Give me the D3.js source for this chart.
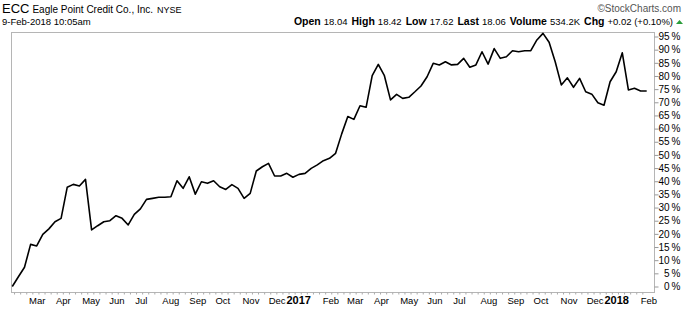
<!DOCTYPE html>
<html>
<head>
<meta charset="utf-8">
<script src="https://cdn.jsdelivr.net/npm/d3@7"></script>
<style>
  body { margin: 0; background: #fff; }
  svg text { font-family: "Liberation Sans", Arial, sans-serif; }
</style>
</head>
<body>
<div id="chart"></div>
<script>
// weekly closes, % change since first week
var startDate = "2016-02-12";
var pctChange = [
  0, 3.7, 7.3, 16.0, 15.4, 19.8, 21.9, 24.6, 25.9, 37.7,
  38.8, 38.2, 40.7, 21.5, 23.1, 24.6, 25.0, 26.9, 25.9, 23.4,
  27.4, 29.5, 33.1, 33.5, 33.9, 33.9, 34.1, 40.2, 37.3, 41.7,
  35.1, 39.8, 39.2, 40.2, 37.9, 36.9, 38.7, 37.3, 33.5, 35.4,
  43.9, 45.5, 46.8, 42.0, 42.0, 43.0, 41.5, 42.6, 43.0, 44.9,
  46.2, 47.8, 48.7, 50.6, 58.0, 64.6, 63.5, 68.7, 68.1, 80.1,
  84.4, 80.1, 70.9, 73.0, 71.5, 71.9, 74.0, 76.2, 79.7, 84.8,
  84.2, 85.4, 84.2, 84.4, 86.7, 83.3, 84.2, 89.2, 84.5, 90.4,
  86.7, 87.3, 89.6, 89.2, 89.6, 89.6, 93.7, 96.2, 92.8, 85.4,
  76.6, 79.3, 75.7, 79.1, 74.0, 73.1, 69.8, 68.9, 77.8, 81.6,
  88.8, 74.7, 75.3, 74.3, 74.3
];
var yTicks = d3.range(0, 100, 5);
var monthLabels = [
  ["2016-03-01", "Mar"], ["2016-04-01", "Apr"], ["2016-05-01", "May"], ["2016-06-01", "Jun"],
  ["2016-07-01", "Jul"], ["2016-08-01", "Aug"], ["2016-09-01", "Sep"], ["2016-10-01", "Oct"],
  ["2016-11-01", "Nov"], ["2016-12-01", "Dec"], ["2017-01-01", "2017"], ["2017-02-01", "Feb"],
  ["2017-03-01", "Mar"], ["2017-04-01", "Apr"], ["2017-05-01", "May"], ["2017-06-01", "Jun"],
  ["2017-07-01", "Jul"], ["2017-08-01", "Aug"], ["2017-09-01", "Sep"], ["2017-10-01", "Oct"],
  ["2017-11-01", "Nov"], ["2017-12-01", "Dec"], ["2018-01-01", "2018"], ["2018-02-01", "Feb"]
];
var quote = [
  ["Open", "18.04"], ["High", "18.42"], ["Low", "17.62"], ["Last", "18.06"],
  ["Volume", "534.2K"], ["Chg", "+0.02 (+0.10%)"]
];

var W = 684, H = 309;
var frame = { left: 11, right: 654, top: 32, bottom: 292 };
var parse = d3.timeParse("%Y-%m-%d");
var t0 = parse(startDate);
var data = pctChange.map(function (v, i) {
  return { date: d3.timeDay.offset(t0, i * 7), value: v };
});

var x = d3.scaleTime()
  .domain([data[0].date, data[data.length - 1].date])
  .range([12.3, 646.7]);
var y = d3.scaleLinear()
  .domain([0, 95])
  .range([286.5, 36.5]);

var svg = d3.select("#chart").append("svg")
  .attr("width", W).attr("height", H);

// header
var h1 = svg.append("text").attr("x", 2).attr("y", 13).attr("fill", "#000");
h1.append("tspan").attr("font-size", 13).text("ECC");
h1.append("tspan").attr("font-size", 10).attr("dx", 3).text("Eagle Point Credit Co., Inc.");
h1.append("tspan").attr("font-size", 9).attr("dx", 4).text("NYSE");

svg.append("text").attr("x", 681).attr("y", 12)
  .attr("text-anchor", "end").attr("font-size", 10).attr("fill", "#555")
  .text("\u00a9StockCharts.com");

svg.append("text").attr("x", 2).attr("y", 25)
  .attr("font-size", 9.5).text("9-Feb-2018 10:05am");

var q = svg.append("text").attr("x", 673).attr("y", 25)
  .attr("text-anchor", "end").attr("font-size", 9.5);
quote.forEach(function (d, i) {
  q.append("tspan").attr("font-weight", "bold").attr("font-size", 10.5)
    .attr("dx", i ? 4 : 0).text(d[0]);
  q.append("tspan").attr("dx", 3).text(d[1]);
});
svg.append("path")
  .attr("d", "M676,24 L679.5,20 L683,24 Z")
  .attr("fill", "#2a9d3a");

// frame
svg.append("rect")
  .attr("x", frame.left + 0.5).attr("y", frame.top + 0.5)
  .attr("width", frame.right - frame.left).attr("height", frame.bottom - frame.top)
  .attr("fill", "none").attr("stroke", "#b5b5b5");

// y axis on the right
var yAxis = svg.append("g")
  .attr("transform", "translate(" + (frame.right + 0.5) + ",0)")
  .call(d3.axisRight(y).tickValues(yTicks).tickSize(4).tickPadding(3)
    .tickFormat(function (d) { return d + "\u2009%"; }));
yAxis.select(".domain").remove();
yAxis.selectAll(".tick line").attr("stroke", "#999");
yAxis.selectAll(".tick text")
  .attr("x", 680 - frame.right)
  .attr("text-anchor", "end")
  .attr("font-size", 10)
  .attr("font-family", "Liberation Sans, Arial, sans-serif")
  .attr("fill", "#000");

// small weekly ticks along the bottom
var xTicks = svg.append("g")
  .attr("transform", "translate(0," + (frame.bottom + 0.5) + ")")
  .call(d3.axisBottom(x).ticks(d3.timeWeek.every(1)).tickSize(2).tickFormat(""));
xTicks.select(".domain").remove();
xTicks.selectAll(".tick line").attr("stroke", "#aaa");

// month labels (year labels centred on Jan 1)
svg.append("g").selectAll("text")
  .data(monthLabels)
  .join("text")
  .attr("x", function (d) { return x(parse(d[0])) + (d[1].length === 4 ? 4 : 1); })
  .attr("y", 304)
  .attr("text-anchor", function (d) { return d[1].length === 4 ? "middle" : "start"; })
  .attr("font-size", function (d) { return d[1].length === 4 ? 11 : 9.5; })
  .attr("font-weight", function (d) { return d[1].length === 4 ? "bold" : "normal"; })
  .text(function (d) { return d[1]; });

// price line
var line = d3.line()
  .x(function (d) { return x(d.date); })
  .y(function (d) { return y(d.value); });

svg.append("path")
  .datum(data)
  .attr("fill", "none")
  .attr("stroke", "#000")
  .attr("stroke-width", 1.6)
  .attr("stroke-linejoin", "round")
  .attr("d", line);
</script>
</body>
</html>
